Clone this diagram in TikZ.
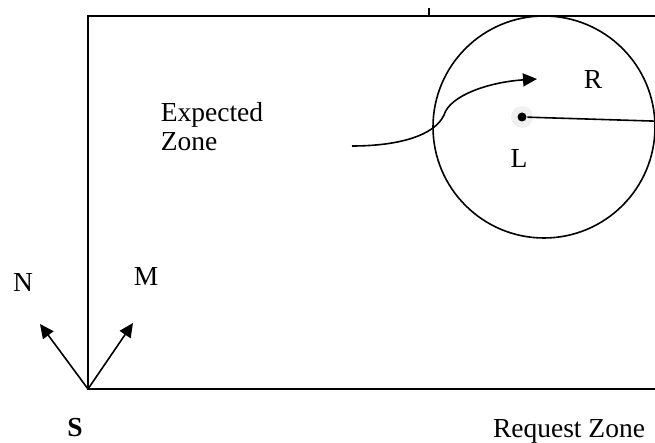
\documentclass[tikz,border=0pt]{standalone}
\usepackage{fontspec}
\setmainfont{Liberation Serif}
\usetikzlibrary{arrows.meta}
\tikzset{
  lbl/.style={inner sep=0pt,font=\fontsize{13.75}{14.5}\selectfont},
  arr/.style={-{Triangle[length=7pt,width=6.5pt]}}
}
\begin{document}
\begin{tikzpicture}[x=0.5pt,y=-0.5pt,line width=0.8pt]
  \clip (0,0) rectangle (655,443);
  \coordinate (S) at (88,389);
  \coordinate (TL) at (88,16);
  \coordinate (TR) at (680,16);
  \coordinate (BR) at (680,389);
  \draw (TR) -- (TL) -- (S) -- (BR);
  \draw (429,8) -- (429,16);
  \node[draw,circle,minimum size=111pt,inner sep=0pt,line width=0.8pt] (zone) at (544,127) {};
  \node[circle,fill=gray!12,minimum size=11pt,inner sep=0pt] (halo) at (522,117) {};
  \node[circle,fill,minimum size=4.5pt,inner sep=0pt] (loc) at (522,117) {};
  \draw (loc) -- (zone.3);
  \coordinate (cstart) at (352,146);
  \coordinate (ctip) at (537,79);
  \draw[arr] (cstart) .. controls (400,146) and (435,135) .. (444,115)
    .. controls (450,95) and (490,82) .. (ctip);
  \coordinate (nend) at (40,324);
  \coordinate (mend) at (133,323);
  \draw[arr] (S) -- (nend);
  \draw[arr] (S) -- (mend);
  \node[lbl] (R) at (593,80) {R};
  \node[lbl] (L) at (519,159) {L};
  \node[lbl] (N) at (23,283) {N};
  \node[lbl] (M) at (146,277) {M};
  \node[lbl] (Slbl) at (75,428) {\bfseries S};
  \node[lbl,anchor=base] (req) at (569,438) {Request Zone};
  \node[lbl,align=left,anchor=north west] (exp) at (160,102) {Expected\\Zone};
\end{tikzpicture}
\end{document}
